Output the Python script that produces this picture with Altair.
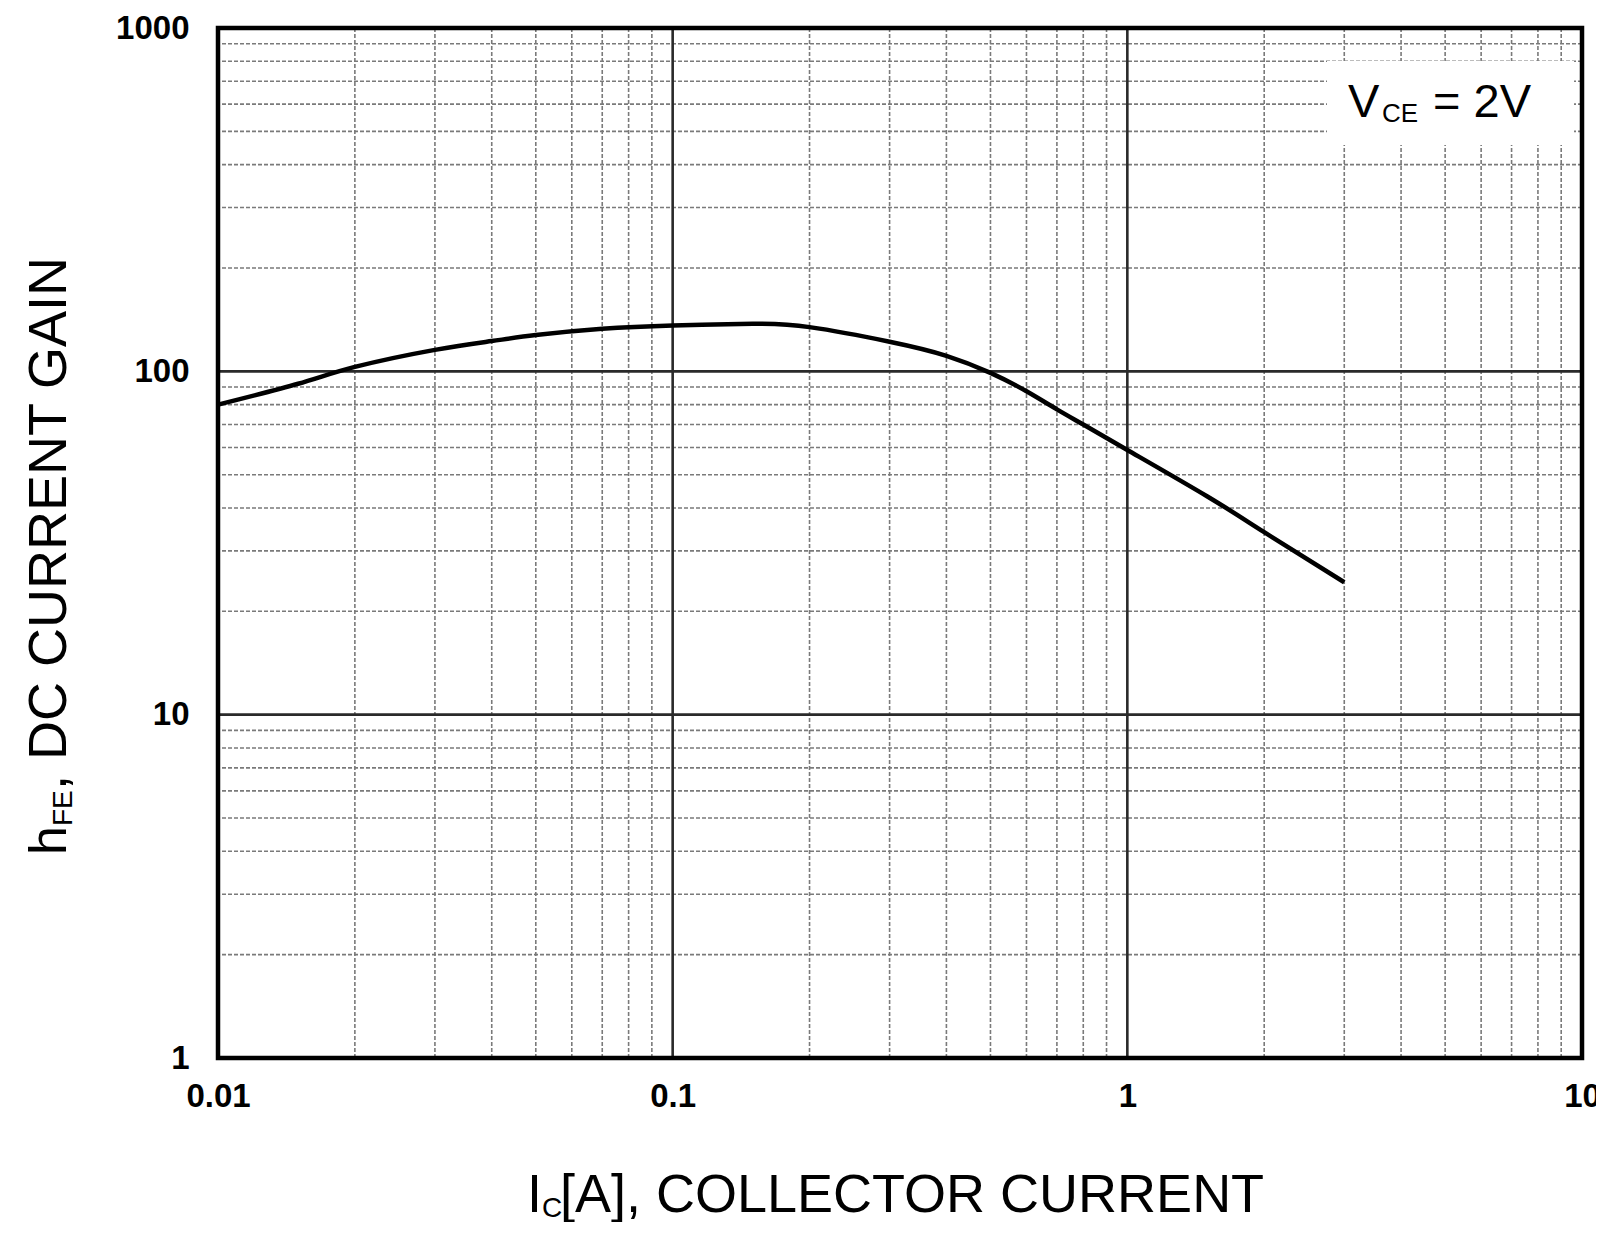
import altair as alt
import pandas as pd

# ---- data ----
ic_amp = [0.01, 0.015, 0.02, 0.03, 0.04, 0.05, 0.07, 0.1, 0.15, 0.2,
          0.3, 0.4, 0.5, 0.6, 0.7, 0.8, 1.0, 1.5, 2.0, 3.0]
hfe_gain = [80, 92, 103, 115.5, 122.5, 127.5, 133, 136, 137.5, 134.5,
            122, 111, 99, 87.5, 77.5, 70, 59, 43.2, 34, 24.3]

x_labels = [0.01, 0.1, 1, 10]
y_labels = [1, 10, 100, 1000]
x_major = [0.1, 1]
y_major = [10, 100]
x_minor = [0.02, 0.03, 0.04, 0.05, 0.06, 0.07, 0.08, 0.09,
           0.2, 0.3, 0.4, 0.5, 0.6, 0.7, 0.8, 0.9,
           2, 3, 4, 5, 6, 7, 8, 9]
y_minor = [2, 3, 4, 5, 6, 7, 8, 9,
           20, 30, 40, 50, 60, 70, 80, 90,
           200, 300, 400, 500, 600, 700, 800, 900]

FONT = "Liberation Sans"
W, H = 1364, 1030

xs = alt.Scale(type="log", domain=[0.01, 10], nice=False)
ys = alt.Scale(type="log", domain=[1, 1000], nice=False)

x_axis = alt.Axis(values=x_labels, format="~g", grid=False, ticks=False, domain=False,
                  labelFont=FONT, labelFontSize=33, labelFontWeight="bold",
                  labelColor="black", labelPadding=22, title=None, labelFlush=False)
y_axis = alt.Axis(values=y_labels, format="~g", grid=False, ticks=False, domain=False,
                  labelFont=FONT, labelFontSize=33, labelFontWeight="bold",
                  labelColor="black", labelPadding=29, title=None, labelFlush=False)

curve_df = pd.DataFrame({"ic": ic_amp, "hfe": hfe_gain})

MINOR = dict(color="#7a7a7a", strokeWidth=1.6, strokeDash=[4, 2])
MAJOR = dict(color="#2a2a2a", strokeWidth=2.6)

vminor = alt.Chart(pd.DataFrame({"v": x_minor})).mark_rule(**MINOR).encode(
    x=alt.X("v:Q", scale=xs, axis=x_axis))
hminor = alt.Chart(pd.DataFrame({"v": y_minor})).mark_rule(**MINOR).encode(
    y=alt.Y("v:Q", scale=ys, axis=y_axis))
vmajor = alt.Chart(pd.DataFrame({"v": x_major})).mark_rule(**MAJOR).encode(
    x=alt.X("v:Q", scale=xs, axis=x_axis))
hmajor = alt.Chart(pd.DataFrame({"v": y_major})).mark_rule(**MAJOR).encode(
    y=alt.Y("v:Q", scale=ys, axis=y_axis))

one = pd.DataFrame({"k": [0]})

label_box = alt.Chart(one).mark_rect(color="white").encode(
    x=alt.value(1109), x2=alt.value(1356), y=alt.value(33), y2=alt.value(117)
)

curve = alt.Chart(curve_df).mark_line(
    color="black", strokeWidth=4.5, interpolate="natural"
).encode(
    x=alt.X("ic:Q", scale=xs, axis=x_axis),
    y=alt.Y("hfe:Q", scale=ys, axis=y_axis),
)


def txt(s, x, y, size, angle=0):
    return alt.Chart(one).mark_text(
        text=s, font=FONT, fontSize=size, color="black", align="left",
        baseline="alphabetic", angle=angle
    ).encode(x=alt.value(x), y=alt.value(y))


# V_CE = 2V annotation
vce = [txt("V", 1130, 89, 47), txt("CE", 1164, 94, 26), txt("= 2V", 1215, 89, 47)]

# y-axis title  h_FE, DC CURRENT GAIN  (rotated)
ytitle = [txt("h", -152, 827, 52, 270),
          txt("FE", -146, 798, 28, 270),
          txt(", DC CURRENT GAIN", -152, 762, 54, 270)]

# x-axis title  I_C[A], COLLECTOR CURRENT
xtitle = [txt("I", 309, 1184, 54),
          txt("C", 324, 1189, 28),
          txt("[A], COLLECTOR CURRENT", 342, 1184, 54)]

# outer frame drawn on top
frame = alt.Chart(one).mark_rect(fill=None, stroke="black", strokeWidth=4.5).encode(
    x=alt.value(0), x2=alt.value(W), y=alt.value(0), y2=alt.value(H)
)

chart = alt.layer(
    vminor, hminor, vmajor, hmajor, label_box, curve, frame, *vce, *ytitle, *xtitle
).properties(
    width=W, height=H,
    background="white",
    autosize=alt.AutoSizeParams(type="none"),
    padding={"left": 210, "top": 20, "right": 14, "bottom": 164},
).configure_view(
    stroke=None
)

chart.save("out.html", embed_options={"renderer": "svg", "actions": False})
